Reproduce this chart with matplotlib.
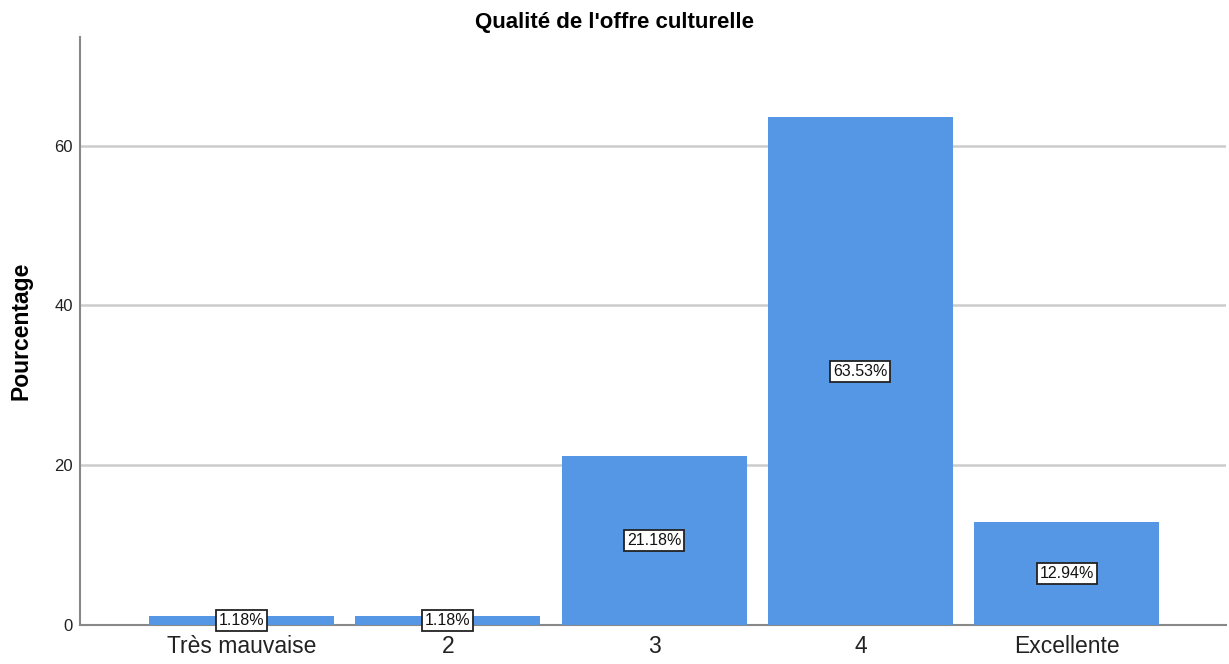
import matplotlib.pyplot as plt

plt.rcParams['font.family'] = ['Liberation Sans', 'DejaVu Sans']

categories = ['Très mauvaise', '2', '3', '4', 'Excellente']
percents = [1.18, 1.18, 21.18, 63.53, 12.94]
yticks = [0, 20, 40, 60]

fig = plt.figure(figsize=(12.29, 6.64), dpi=100)
ax = fig.add_axes([0.0651, 0.0587, 0.9325, 0.8856])

x = range(len(categories))
ax.bar(x, percents, width=0.897, color='#5596e5', zorder=3)

# percentage labels sit halfway up each bar
for xi, p in zip(x, percents):
    ax.text(xi, p / 2, '%.2f%%' % p, ha='center', va='center', fontsize=11.5,
            color='#111111', zorder=4,
            bbox=dict(boxstyle='square,pad=0.18', fc='white', ec='#222222', lw=1.3))

ax.set_xlim(-0.783, 4.773)
ax.set_ylim(0, 73.6)
ax.set_xticks(list(x))
ax.set_xticklabels(categories, fontsize=16.5, color='#222222')
ax.set_yticks(yticks)
ax.set_yticklabels([str(t) for t in yticks], fontsize=12, color='#222222')
ax.tick_params(length=0)
ax.tick_params(axis='y', pad=5)
ax.tick_params(axis='x', pad=7)

for t in yticks[1:]:
    ax.axhline(t, color='#cccccc', lw=1.8, zorder=1)

for side in ['top', 'right']:
    ax.spines[side].set_visible(False)
for side in ['left', 'bottom']:
    ax.spines[side].set_color('#888888')
    ax.spines[side].set_linewidth(1.5)

ax.set_ylabel('Pourcentage', fontsize=16.5, fontweight='bold', labelpad=16)
fig.text(0.5, 0.966, "Qualité de l'offre culturelle", ha='center', va='center',
         fontsize=16, fontweight='bold')

fig.savefig('out.png', dpi=100)
